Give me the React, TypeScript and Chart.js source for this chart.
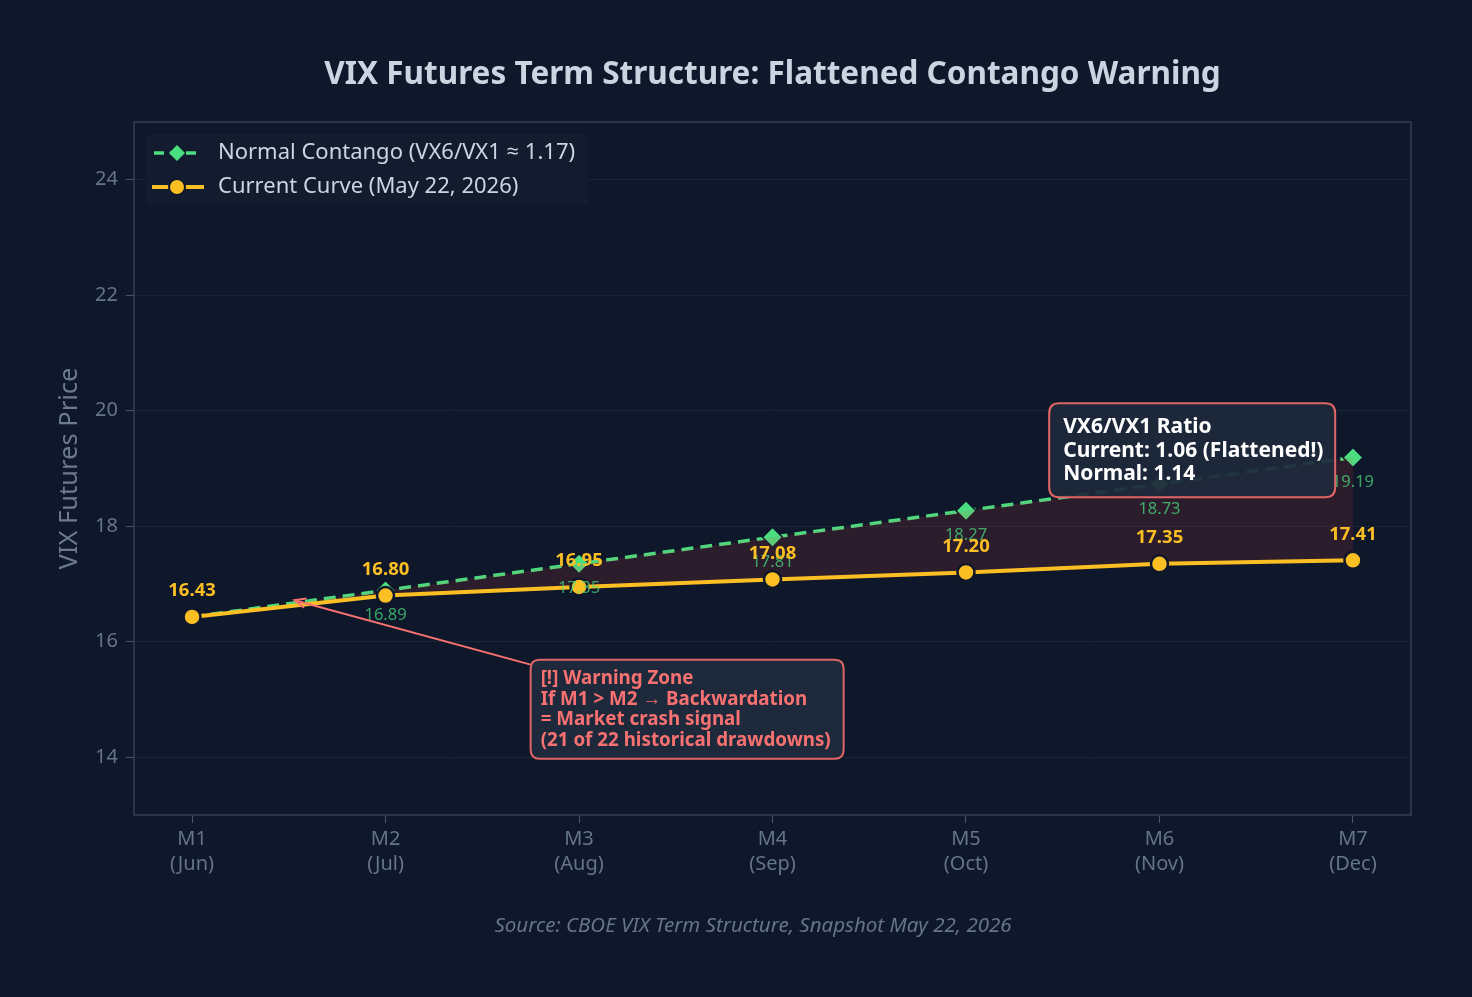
import React, { useEffect, useRef } from "react";
import { Chart, registerables } from "chart.js";

Chart.register(...registerables);

const contracts = ["M1", "M2", "M3", "M4", "M5", "M6", "M7"];
const months = ["(Jun)", "(Jul)", "(Aug)", "(Sep)", "(Oct)", "(Nov)", "(Dec)"];
const normalContango = [16.43, 16.89, 17.35, 17.81, 18.27, 18.73, 19.19];
const currentCurve = [16.43, 16.8, 16.95, 17.08, 17.2, 17.35, 17.41];
const yTicks = [14, 16, 18, 20, 22, 24];

const titleText = "VIX Futures Term Structure: Flattened Contango Warning";
const sourceText = "Source: CBOE VIX Term Structure, Snapshot May 22, 2026";
const yAxisTitle = "VIX Futures Price";
const legendLabels = ["Normal Contango (VX6/VX1 \u2248 1.17)", "Current Curve (May 22, 2026)"];
const ratioLines = ["VX6/VX1 Ratio", "Current: 1.06 (Flattened!)", "Normal: 1.14"];
const warningLines = [
  "[!] Warning Zone",
  "If M1 > M2 \u2192 Backwardation",
  "= Market crash signal",
  "(21 of 22 historical drawdowns)",
];

const BG = "#0f172a";
const GREEN = "#4ade80";
const YELLOW = "#fbbf24";
const RED = "#f87171";
const FONT = "'Noto Sans', 'Open Sans', sans-serif";

function roundRect(ctx: CanvasRenderingContext2D, x: number, y: number, w: number, h: number, r: number) {
  ctx.beginPath();
  ctx.moveTo(x + r, y);
  ctx.lineTo(x + w - r, y);
  ctx.quadraticCurveTo(x + w, y, x + w, y + r);
  ctx.lineTo(x + w, y + h - r);
  ctx.quadraticCurveTo(x + w, y + h, x + w - r, y + h);
  ctx.lineTo(x + r, y + h);
  ctx.quadraticCurveTo(x, y + h, x, y + h - r);
  ctx.lineTo(x, y + r);
  ctx.quadraticCurveTo(x, y, x + r, y);
  ctx.closePath();
}

const overlay = {
  id: "overlay",
  beforeDraw(chart: any) {
    const ctx = chart.ctx as CanvasRenderingContext2D;
    ctx.save();
    ctx.fillStyle = BG;
    ctx.fillRect(0, 0, chart.width, chart.height);
    ctx.restore();
  },
  beforeDatasetsDraw(chart: any) {
    const ctx = chart.ctx as CanvasRenderingContext2D;
    const a = chart.chartArea;
    ctx.save();
    ctx.strokeStyle = "#334155";
    ctx.lineWidth = 1.5;
    ctx.strokeRect(a.left, a.top, a.right - a.left, a.bottom - a.top);
    ctx.restore();
  },
  afterDatasetsDraw(chart: any) {
    const ctx = chart.ctx as CanvasRenderingContext2D;
    const xs = chart.scales.x;
    const ys = chart.scales.y;
    const a = chart.chartArea;
    ctx.save();
    // value labels
    const gMeta = chart.getDatasetMeta(0);
    const yMeta = chart.getDatasetMeta(1);
    ctx.textAlign = "center";
    ctx.textBaseline = "middle";
    ctx.font = `16.5px ${FONT}`;
    ctx.fillStyle = "rgba(74,222,128,0.72)";
    normalContango.forEach((v, i) => {
      if (v === currentCurve[i]) return;
      const p = gMeta.data[i];
      ctx.fillText(v.toFixed(2), p.x, p.y + 25);
    });
    ctx.font = `bold 18.5px ${FONT}`;
    ctx.fillStyle = YELLOW;
    currentCurve.forEach((v, i) => {
      const p = yMeta.data[i];
      ctx.fillText(v.toFixed(2), p.x, p.y - 26);
    });

    // ratio box
    const rx = xs.getPixelForValue(4.43);
    const ry = ys.getPixelForValue(20.13);
    ctx.globalAlpha = 0.93;
    roundRect(ctx, rx, ry, 286, 94, 10);
    ctx.fillStyle = "#1e293b";
    ctx.fill();
    ctx.globalAlpha = 1;
    ctx.strokeStyle = "#e06666";
    ctx.lineWidth = 2;
    ctx.stroke();
    ctx.fillStyle = "#ffffff";
    ctx.font = `bold 21px ${FONT}`;
    ctx.textAlign = "left";
    ratioLines.forEach((t, i) => ctx.fillText(t, rx + 14, ry + 24 + i * 23.5));

    // warning arrow
    const wx = xs.getPixelForValue(1.75);
    const wy = ys.getPixelForValue(15.69);
    const tx = xs.getPixelForValue(0.53);
    const ty = ys.getPixelForValue(16.72);
    ctx.strokeStyle = RED;
    ctx.lineWidth = 2;
    ctx.beginPath();
    ctx.moveTo(wx, wy + 5);
    ctx.lineTo(tx, ty);
    ctx.stroke();
    const ang = Math.atan2(ty - (wy + 5), tx - wx);
    ctx.beginPath();
    ctx.moveTo(tx - 12 * Math.cos(ang - 0.4), ty - 12 * Math.sin(ang - 0.4));
    ctx.lineTo(tx, ty);
    ctx.lineTo(tx - 12 * Math.cos(ang + 0.4), ty - 12 * Math.sin(ang + 0.4));
    ctx.stroke();

    // warning box
    roundRect(ctx, wx, wy, 313, 99, 9);
    ctx.fillStyle = "#1e293b";
    ctx.fill();
    ctx.strokeStyle = "#e06666";
    ctx.lineWidth = 2;
    ctx.stroke();
    ctx.fillStyle = RED;
    ctx.font = `bold 18.8px ${FONT}`;
    warningLines.forEach((t, i) => ctx.fillText(t, wx + 10, wy + 19 + i * 20.5));

    // legend
    const lx = a.left + 12;
    const ly = a.top + 12;
    roundRect(ctx, lx, ly, 442, 71, 4);
    ctx.fillStyle = "#131c2f";
    ctx.fill();
    const rows = [ly + 19, ly + 53];
    // green sample
    ctx.strokeStyle = GREEN;
    ctx.lineWidth = 3.5;
    ctx.setLineDash([10, 6]);
    ctx.beginPath();
    ctx.moveTo(lx + 8, rows[0]);
    ctx.lineTo(lx + 56, rows[0]);
    ctx.stroke();
    ctx.setLineDash([]);
    ctx.fillStyle = GREEN;
    ctx.beginPath();
    const cx0 = lx + 31;
    ctx.moveTo(cx0, rows[0] - 8);
    ctx.lineTo(cx0 + 8, rows[0]);
    ctx.lineTo(cx0, rows[0] + 8);
    ctx.lineTo(cx0 - 8, rows[0]);
    ctx.closePath();
    ctx.fill();
    // yellow sample
    ctx.strokeStyle = YELLOW;
    ctx.lineWidth = 4;
    ctx.beginPath();
    ctx.moveTo(lx + 6, rows[1]);
    ctx.lineTo(lx + 58, rows[1]);
    ctx.stroke();
    ctx.beginPath();
    ctx.arc(cx0, rows[1], 9, 0, Math.PI * 2);
    ctx.fillStyle = BG;
    ctx.fill();
    ctx.beginPath();
    ctx.arc(cx0, rows[1], 7, 0, Math.PI * 2);
    ctx.fillStyle = YELLOW;
    ctx.fill();
    ctx.fillStyle = "#cbd5e1";
    ctx.font = `22px ${FONT}`;
    ctx.textAlign = "left";
    legendLabels.forEach((t, i) => ctx.fillText(t, lx + 72, rows[i]));
    ctx.restore();
  },
  afterDraw(chart: any) {
    const ctx = chart.ctx as CanvasRenderingContext2D;
    const a = chart.chartArea;
    ctx.save();
    ctx.textAlign = "center";
    ctx.textBaseline = "middle";
    ctx.fillStyle = "#cbd5e1";
    ctx.font = `bold 31.5px ${FONT}`;
    ctx.fillText(titleText, (a.left + a.right) / 2, 75);
    ctx.fillStyle = "#64748b";
    ctx.font = `italic 20.5px ${FONT}`;
    ctx.fillText(sourceText, 753, 926);
    ctx.translate(70, (a.top + a.bottom) / 2);
    ctx.rotate(-Math.PI / 2);
    ctx.fillStyle = "#6b7a90";
    ctx.font = `25.5px ${FONT}`;
    ctx.fillText(yAxisTitle, 0, 0);
    ctx.restore();
  },
};

export default function App() {
  const ref = useRef<HTMLCanvasElement | null>(null);

  useEffect(() => {
    document.body.style.margin = "0";
    document.body.style.background = BG;
    const canvas = ref.current;
    if (!canvas) return;
    const chart = new Chart(canvas, {
      type: "line",
      data: {
        datasets: [
          {
            label: legendLabels[0],
            data: normalContango.map((v, i) => ({ x: i, y: v })),
            borderColor: GREEN,
            borderWidth: 3.5,
            borderDash: [12, 7],
            pointStyle: "rectRot",
            pointRadius: 10,
            pointBackgroundColor: GREEN,
            pointBorderColor: BG,
            pointBorderWidth: 1.5,
            fill: false,
            order: 2,
          },
          {
            label: legendLabels[1],
            data: currentCurve.map((v, i) => ({ x: i, y: v })),
            borderColor: YELLOW,
            borderWidth: 4,
            backgroundColor: "rgba(239,68,68,0.13)",
            pointRadius: 8.5,
            pointBackgroundColor: YELLOW,
            pointBorderColor: BG,
            pointBorderWidth: 2.5,
            fill: { target: 0 },
            order: 1,
          },
        ],
      },
      options: {
        animation: false,
        responsive: false,
        layout: { padding: { top: 122, right: 61, left: 0, bottom: 0 } },
        plugins: {
          legend: { display: false },
          title: { display: false },
          tooltip: { enabled: false },
        },
        scales: {
          x: {
            type: "linear",
            min: -0.3,
            max: 6.3,
            afterBuildTicks: (s: any) => {
              s.ticks = contracts.map((_, i) => ({ value: i }));
            },
            afterFit: (s: any) => {
              s.height = 182;
            },
            ticks: {
              color: "#64748b",
              font: { family: FONT, size: 20, lineHeight: 1.25 },
              padding: 4,
              maxRotation: 0,
              callback: (v: any) => [contracts[v], months[v]],
            },
            grid: { drawOnChartArea: false, drawTicks: true, tickLength: 8, color: "#475569" },
            border: { display: false },
          },
          y: {
            min: 13,
            max: 25,
            afterBuildTicks: (s: any) => {
              s.ticks = yTicks.map((v) => ({ value: v }));
            },
            afterFit: (s: any) => {
              s.width = 134;
            },
            ticks: {
              color: "#64748b",
              font: { family: FONT, size: 20 },
              padding: 8,
            },
            grid: {
              color: "rgba(51,65,85,0.3)",
              tickColor: "#475569",
              tickLength: 8,
            },
            border: { display: false },
          },
        },
      },
      plugins: [overlay],
    } as any);
    return () => chart.destroy();
  }, []);

  return (
    <div style={{ width: 1472, height: 997, background: BG, overflow: "hidden" }}>
      <canvas ref={ref} width={1472} height={997} style={{ display: "block" }} />
    </div>
  );
}
